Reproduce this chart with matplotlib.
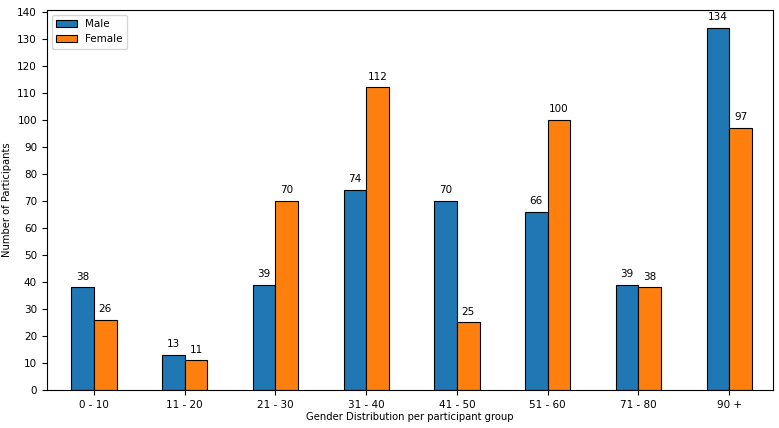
import matplotlib
matplotlib.use('Agg')
import matplotlib.pyplot as plt
import numpy as np

groups = ['0 - 10', '11 - 20', '21 - 30', '31 - 40', '41 - 50', '51 - 60', '71 - 80', '90 +']
male = [38, 13, 39, 74, 70, 66, 39, 134]
female = [26, 11, 70, 112, 25, 100, 38, 97]

fig = plt.figure(figsize=(7.79, 4.28), dpi=100)
ax = fig.add_axes([0.060, 0.089, 0.932, 0.888])

x = np.arange(len(groups))
w = 0.25
b1 = ax.bar(x - w / 2, male, w, color='#1f77b4', edgecolor='black', linewidth=0.8, label='Male')
b2 = ax.bar(x + w / 2, female, w, color='#ff7f0e', edgecolor='black', linewidth=0.8, label='Female')

for bars in (b1, b2):
    for r in bars:
        h = r.get_height()
        ax.annotate(f'{h:.0f}', xy=(r.get_x() + r.get_width() / 2, h),
                    xytext=(0, 4), textcoords='offset points',
                    ha='center', va='bottom', fontsize=7.5)

ax.set_xticks(x)
ax.set_xticklabels(groups, fontsize=7.5)
ax.set_yticks(np.arange(0, 141, 10))
ax.tick_params(axis='y', labelsize=7.5)
ax.set_xlim(-0.52, 7.48)
ax.set_ylim(0, 140.7)
ax.set_xlabel('Gender Distribution per participant group', fontsize=7.2, labelpad=2)
ax.set_ylabel('Number of Participants', fontsize=7.2)
ax.legend(loc='upper left', fontsize=7.5)

fig.savefig('out.png', dpi=100, facecolor='white')
